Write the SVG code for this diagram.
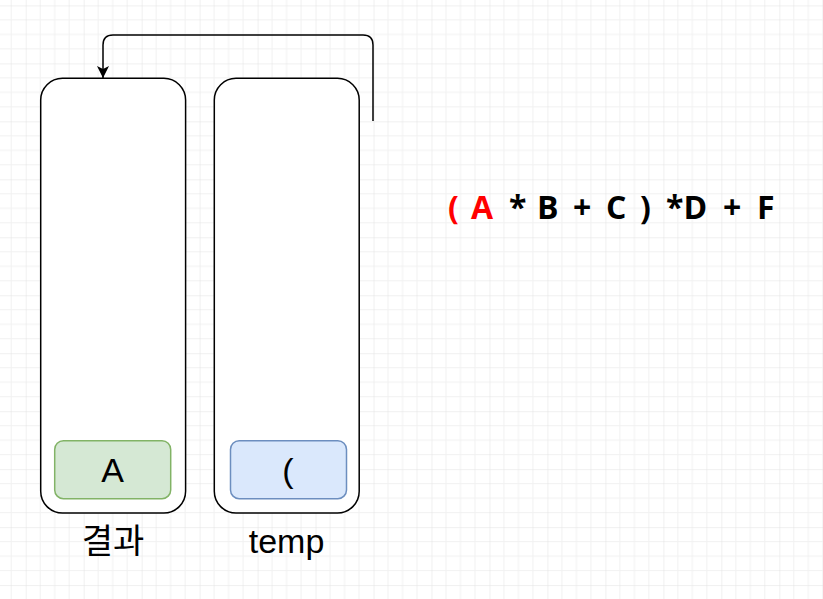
<svg xmlns="http://www.w3.org/2000/svg" width="823" height="599" viewBox="0 0 823 599">
  <style>
    .container { fill: #ffffff; stroke: #000000; stroke-width: 1.5; }
    .green { fill: #d5e8d4; stroke: #82b366; stroke-width: 1.5; }
    .blue { fill: #dae8fc; stroke: #6c8ebf; stroke-width: 1.5; }
    .val { font-family: "Liberation Sans", Arial, sans-serif; font-size: 34px; fill: #000000; text-anchor: middle; }
    .label { font-family: "Liberation Sans", Arial, "Noto Sans CJK KR", sans-serif; font-size: 34px; fill: #000000; text-anchor: middle; }
    .formula { font-family: "Open Sans", "Noto Sans", sans-serif; font-weight: 700; font-size: 32px; fill: #000000; }
    .red { fill: #ff0000; }
    .conn { fill: none; stroke: #000000; stroke-width: 1.5; }
  </style>
  <defs>
    <pattern id="grid" patternUnits="userSpaceOnUse" x="25.7" y="5.4" width="57.97" height="57.97">
      <path d="M14.49,0 V57.97 M28.98,0 V57.97 M43.48,0 V57.97 M0,14.49 H57.97 M0,28.98 H57.97 M0,43.48 H57.97" stroke="#f1f1f1" stroke-width="1" fill="none"/>
      <path d="M0,0 V57.97 M0,0 H57.97" stroke="#e2e2e2" stroke-width="1" fill="none"/>
    </pattern>
    <marker id="arrow" markerUnits="userSpaceOnUse" viewBox="0 0 12 12" refX="12" refY="6" markerWidth="12" markerHeight="12" orient="auto">
      <path d="M0,0 L12,6 L0,12 L3,6 z" fill="#000000"/>
    </marker>
  </defs>
  <rect x="0" y="0" width="823" height="599" fill="#ffffff"/>
  <rect x="0" y="0" width="823" height="599" fill="url(#grid)"/>

  <g id="result-stack">
    <rect class="container" x="40.7" y="78.3" width="144.9" height="434.7" rx="21.7" ry="21.7"/>
    <text class="label" x="113" y="553">결과</text>
  </g>
  <g id="temp-stack">
    <rect class="container" x="214.3" y="78.3" width="144.9" height="434.7" rx="21.7" ry="21.7"/>
    <text class="label" x="286.5" y="553">temp</text>
  </g>
  <g id="node-A">
    <rect class="green" x="54.7" y="440.7" width="116" height="58" rx="8.7" ry="8.7"/>
    <text class="val" x="112.7" y="482">A</text>
  </g>
  <g id="node-paren">
    <rect class="blue" x="230.5" y="440.7" width="116" height="58" rx="8.7" ry="8.7"/>
    <text class="val" x="288" y="482">(</text>
  </g>
  <g id="formula">
    <text class="formula" y="218.5"><tspan class="red" x="448">(</tspan><tspan class="red" x="471">A</tspan><tspan x="509">*</tspan><tspan x="537">B</tspan><tspan x="573">+</tspan><tspan x="606">C</tspan><tspan x="640">)</tspan><tspan x="666">*D</tspan><tspan x="723">+</tspan><tspan x="757">F</tspan></text>
  </g>

  <g id="connectors">
    <path class="conn" d="M373,121 V45 Q373,35 363,35 H113 Q103,35 103,45 V78" marker-end="url(#arrow)"/>
  </g>
</svg>
